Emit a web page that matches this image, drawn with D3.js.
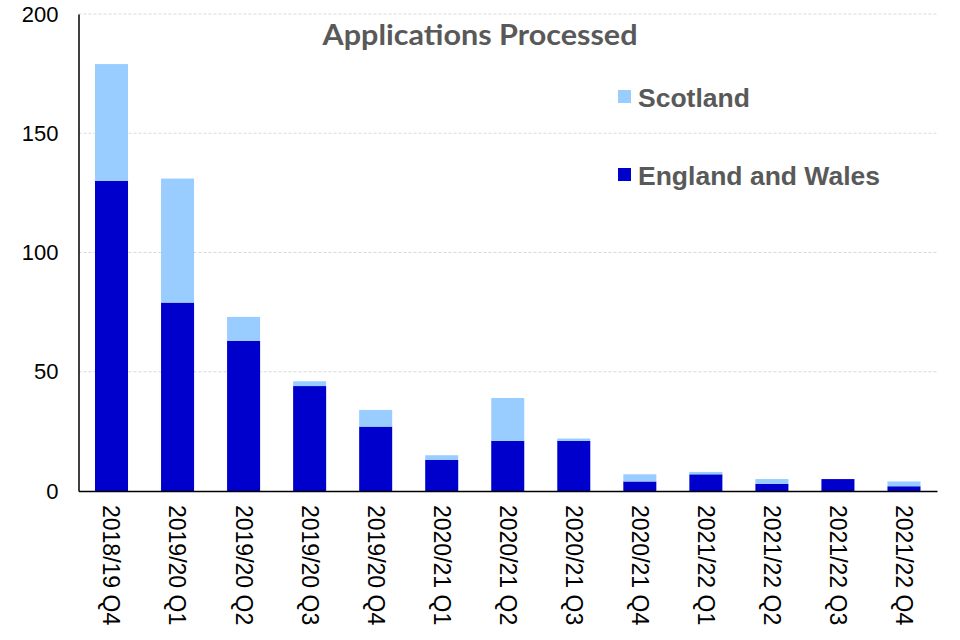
<!DOCTYPE html>
<html>
<head>
<meta charset="utf-8">
<script src="https://cdn.jsdelivr.net/npm/d3@7"></script>
<style>
  body { margin: 0; background: #fff; }
  svg { display: block; }
  .tick text { font-family: "Liberation Sans", Arial, sans-serif; }
</style>
</head>
<body>
<div id="chart"></div>
<script>
// quarters on the x axis
var quarters = ["2018/19 Q4", "2019/20 Q1", "2019/20 Q2", "2019/20 Q3", "2019/20 Q4",
  "2020/21 Q1", "2020/21 Q2", "2020/21 Q3", "2020/21 Q4",
  "2021/22 Q1", "2021/22 Q2", "2021/22 Q3", "2021/22 Q4"];
var englandWales = [130, 79, 63, 44, 27, 13, 21, 21, 4, 7, 3, 5, 2];
var scotland = [49, 52, 10, 2, 7, 2, 18, 1, 3, 1, 2, 0, 2];
var yTicks = [0, 50, 100, 150, 200];
var seriesNames = ["England and Wales", "Scotland"];
var seriesColors = ["#0000cc", "#99ccff"];

var width = 960, height = 640;
var margin = {top: 14, right: 23, bottom: 149, left: 78.5};

var svg = d3.select("#chart").append("svg")
  .attr("width", width)
  .attr("height", height);

var x = d3.scaleBand()
  .domain(quarters)
  .range([margin.left, width - margin.right])
  .paddingInner(0.5)
  .paddingOuter(0.25);

var y = d3.scaleLinear()
  .domain([0, 200])
  .range([height - margin.bottom, margin.top]);

// dashed gridlines
svg.append("g")
  .selectAll("line")
  .data(yTicks.slice(1))
  .enter().append("line")
  .attr("x1", margin.left)
  .attr("x2", width - margin.right)
  .attr("y1", function(d){ return y(d); })
  .attr("y2", function(d){ return y(d); })
  .style("stroke", "#d9d9d9")
  .style("stroke-width", 1)
  .style("stroke-dasharray", "3,2");

// stack the two series
var table = quarters.map(function(q, i){
  return {quarter: q, "England and Wales": englandWales[i], "Scotland": scotland[i]};
});
var stacked = d3.stack().keys(seriesNames)(table);

svg.append("g")
  .selectAll("g")
  .data(stacked)
  .enter().append("g")
  .style("fill", function(d, i){ return seriesColors[i]; })
  .selectAll("rect")
  .data(function(d){ return d; })
  .enter().append("rect")
  .attr("x", function(d){ return x(d.data.quarter); })
  .attr("width", x.bandwidth())
  .attr("y", function(d){ return y(d[1]); })
  .attr("height", function(d){ return y(d[0]) - y(d[1]); });

// y axis
var yAxis = svg.append("g")
  .attr("transform", "translate(" + margin.left + ",0)")
  .call(d3.axisLeft(y).tickValues(yTicks).tickSize(0).tickPadding(20));
yAxis.select(".domain").style("stroke", "#000").style("stroke-width", 1.5);
yAxis.selectAll("text")
  .style("font-size", "22px")
  .style("fill", "#000");

// x axis
var xAxis = svg.append("g")
  .attr("transform", "translate(0," + y(0) + ")")
  .call(d3.axisBottom(x).tickSize(0).tickPadding(0));
xAxis.select(".domain").style("stroke", "#000").style("stroke-width", 1.5);
xAxis.selectAll("text")
  .attr("transform", "rotate(90)")
  .attr("x", 14)
  .attr("y", 0)
  .attr("dy", "0.35em")
  .style("text-anchor", "start")
  .style("font-size", "23px")
  .style("fill", "#000");

// title
svg.append("text")
  .text("Applications Processed")
  .attr("x", 480)
  .attr("y", 45)
  .attr("textLength", 315)
  .attr("lengthAdjust", "spacingAndGlyphs")
  .style("text-anchor", "middle")
  .style("font-family", "Lato, 'Open Sans', sans-serif")
  .style("font-weight", "bold")
  .style("font-size", "28px")
  .style("fill", "#595959");

// legend, Scotland on top
var legendItems = [
  {name: "Scotland", color: seriesColors[1], y: 97},
  {name: "England and Wales", color: seriesColors[0], y: 175}
];
var legend = svg.append("g")
  .selectAll("g")
  .data(legendItems)
  .enter().append("g")
  .attr("transform", function(d){ return "translate(618," + d.y + ")"; });
legend.append("rect")
  .attr("x", 0)
  .attr("y", -7)
  .attr("width", 13)
  .attr("height", 13)
  .style("fill", function(d){ return d.color; });
legend.append("text")
  .text(function(d){ return d.name; })
  .attr("x", 20)
  .attr("dy", "0.36em")
  .style("font-family", "'Liberation Sans', Arial, sans-serif")
  .style("font-weight", "bold")
  .style("font-size", "26.5px")
  .style("fill", "#595959");
</script>
</body>
</html>
